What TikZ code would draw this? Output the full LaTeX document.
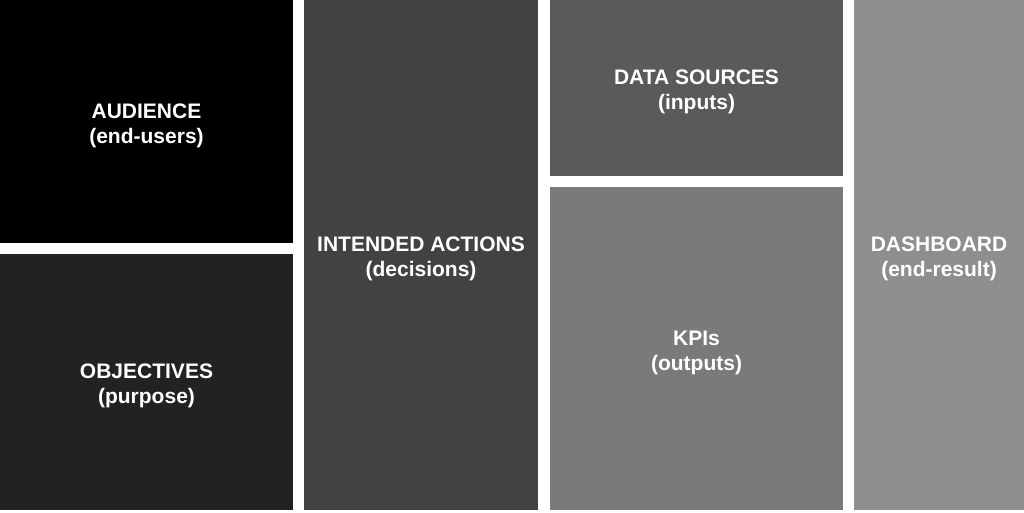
\documentclass[tikz,border=0pt]{standalone}
\usepackage{fontspec}
\setmainfont{Liberation Sans}
\usepackage{xcolor}

\definecolor{tileA}{HTML}{000000}
\definecolor{tileB}{HTML}{222222}
\definecolor{tileC}{HTML}{424242}
\definecolor{tileD}{HTML}{5A5A5A}
\definecolor{tileE}{HTML}{7A7A7A}
\definecolor{tileF}{HTML}{8E8E8E}

\tikzset{
	tile/.style={rectangle, inner sep=0pt, text=white, align=center,
		text height=48pt,
		font=\fontsize{21}{25}\selectfont\bfseries}
}

\begin{document}
\begin{tikzpicture}[x=1pt, y=-1pt]
	\useasboundingbox [fill=white] (0,0) rectangle (1024,513);

	\node [tile, fill=tileA, minimum width=293pt, minimum height=243pt] (audience) at (146.5,121.5) {AUDIENCE\\(end-users)};
	\node [tile, fill=tileB, minimum width=293pt, minimum height=256pt] (objectives) at (146.5,382) {OBJECTIVES\\(purpose)};

	\node [tile, fill=tileC, minimum width=234pt, minimum height=510pt] (actions) at (421,255) {INTENDED ACTIONS\\(decisions)};

	\node [tile, fill=tileD, minimum width=293pt, minimum height=176pt] (sources) at (696.5,88) {DATA SOURCES\\(inputs)};
	\node [tile, fill=tileE, minimum width=293pt, minimum height=323pt] (kpis) at (696.5,348.5) {KPIs\\(outputs)};

	\node [tile, fill=tileF, minimum width=170pt, minimum height=510pt] (dashboard) at (939,255) {DASHBOARD\\(end-result)};
\end{tikzpicture}
\end{document}
